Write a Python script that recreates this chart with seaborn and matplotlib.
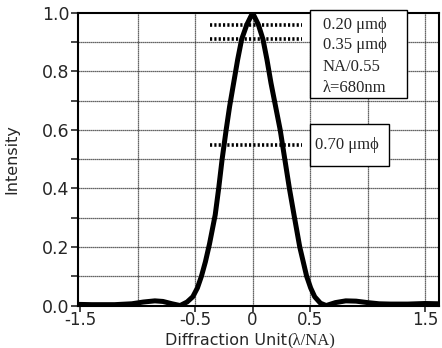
import pandas as pd
import matplotlib.pyplot as plt
import matplotlib.patches as mpatches
import seaborn as sns
import numpy as np

# intensity profile
x_unit = [-1.52, -1.4, -1.2, -1.05, -0.95, -0.85, -0.78, -0.7, -0.63, -0.57,
          -0.52, -0.48, -0.445, -0.41, -0.375, -0.325, -0.295, -0.265, -0.23, -0.2,
          -0.165, -0.13, -0.095, -0.05, 0.0, 0.05, 0.09, 0.125, 0.16, 0.2,
          0.24, 0.28, 0.32, 0.36, 0.41, 0.44, 0.47, 0.505, 0.54, 0.59,
          0.64, 0.72, 0.81, 0.9, 1.0, 1.1, 1.2, 1.35, 1.5, 1.62]
intensity = [0.004, 0.003, 0.003, 0.006, 0.012, 0.016, 0.014, 0.006, 0.0, 0.012,
             0.03, 0.06, 0.1, 0.15, 0.21, 0.31, 0.4, 0.5, 0.6, 0.68,
             0.76, 0.84, 0.91, 0.96, 1.0, 0.96, 0.91, 0.84, 0.76, 0.68,
             0.6, 0.5, 0.4, 0.31, 0.2, 0.15, 0.1, 0.06, 0.03, 0.008,
             0.0, 0.01, 0.016, 0.015, 0.01, 0.006, 0.005, 0.005, 0.007, 0.006]

# dotted marker lines
marker_levels = [0.96, 0.91, 0.55]
marker_x = [-0.37, 0.43]

box1_lines = ['0.20 \u03bcm\u03d5', '0.35 \u03bcm\u03d5', 'NA/0.55', '\u03bb=680nm']
box1_y = [0.959, 0.891, 0.815, 0.744]
box2_text = '0.70 \u03bcm\u03d5'

xtick_vals = [-1.5, -0.5, 0, 0.5, 1.5]
xtick_labels = ['-1.5', '-0.5', '0', '0.5', '1.5']
ytick_vals = [0.0, 0.2, 0.4, 0.6, 0.8, 1.0]

df = pd.DataFrame({'x': x_unit, 'intensity': intensity})

sns.set_style('ticks')
plt.rcParams['font.family'] = ['DejaVu Sans']
serif = 'Liberation Serif'

fig = plt.figure(figsize=(4.42, 3.48), dpi=100)
ax = fig.add_axes([0.176, 0.122, 0.817, 0.841])

# grid
for gx in [-1.0, -0.5, 0, 0.5, 1.0, 1.5]:
    ax.axvline(gx, color='#333333', lw=0.9, ls=(0, (1, 0.6)), zorder=1)
for gy in np.arange(0.1, 1.0, 0.1):
    ax.axhline(gy, color='#333333', lw=0.9, ls=(0, (1, 0.6)), zorder=1)

for lvl in marker_levels:
    ax.plot(marker_x, [lvl, lvl], color='black', lw=2.6, ls=(0, (0.6, 0.6)), zorder=2)

sns.lineplot(data=df, x='x', y='intensity', color='black', lw=3.6, ax=ax, zorder=3)

ax.set_xlim(-1.52, 1.62)
ax.set_ylim(0, 1.0)
ax.set_xticks(xtick_vals)
ax.set_xticklabels(xtick_labels)
ax.set_yticks(ytick_vals)
ax.set_yticklabels([f'{v:.1f}' for v in ytick_vals])
ax.set_yticks(np.arange(0.1, 1.0, 0.2), minor=True)
ax.tick_params(axis='y', labelsize=12.5, width=1.2, length=5, pad=1)
ax.tick_params(axis='x', labelsize=12, width=1.2, length=4, pad=0)
ax.tick_params(axis='y', which='minor', width=1.2, length=5)
for sp in ax.spines.values():
    sp.set_visible(True)
    sp.set_linewidth(1.5)
    sp.set_color('black')

ax.set_xlabel('')
ax.set_ylabel('Intensity', fontsize=11.5, labelpad=16)

# x label: sans part + serif part
t1 = fig.text(0.373, 0.0, 'Diffraction Unit', fontsize=11.5, ha='left', va='bottom')
fig.canvas.draw()
bb = t1.get_window_extent().transformed(fig.transFigure.inverted())
fig.text(bb.x1, 0.0, '(\u03bb/NA)', fontsize=12, ha='left', va='bottom', family=serif)

# legend boxes
ax.add_patch(mpatches.Rectangle((0.5, 0.71), 0.84, 0.30, fc='white', ec='black',
                                lw=1.0, zorder=5, clip_on=False))
for txt, ty in zip(box1_lines, box1_y):
    ax.text(0.61, ty, txt, fontsize=12, family=serif, va='center', ha='left', zorder=6)
ax.add_patch(mpatches.Rectangle((0.5, 0.477), 0.69, 0.143, fc='white', ec='black',
                                lw=1.0, zorder=5))
ax.text(0.54, 0.548, box2_text, fontsize=12, family=serif, va='center', ha='left', zorder=6)

fig.savefig('out.png', dpi=100)
